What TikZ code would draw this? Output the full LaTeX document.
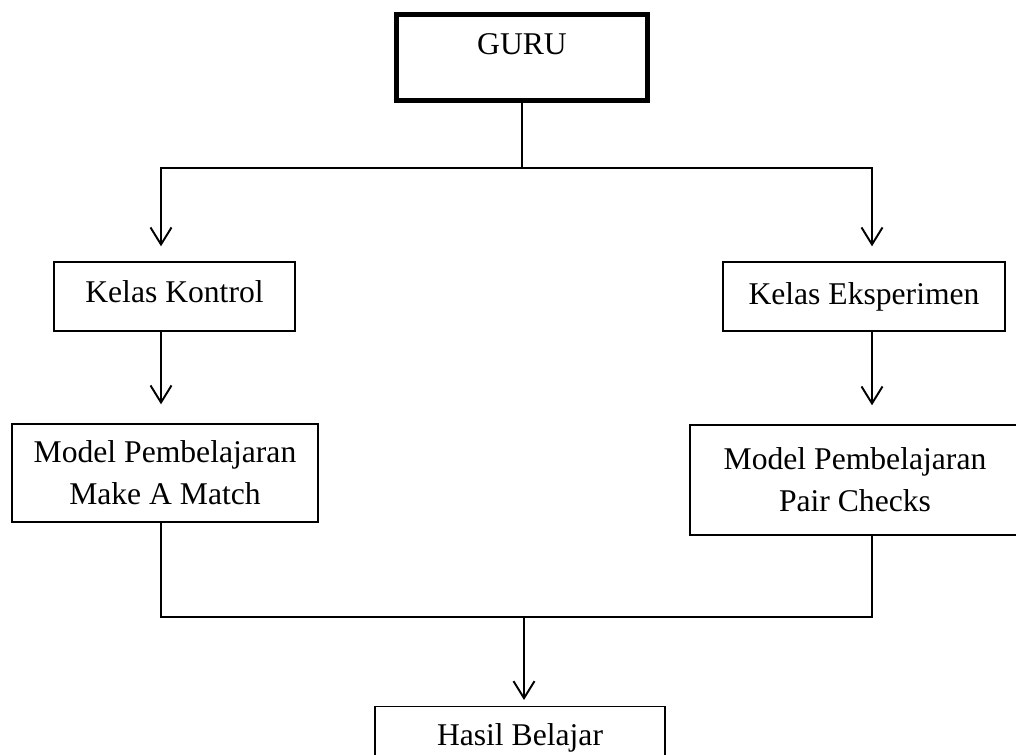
\documentclass[tikz,border=0pt]{standalone}
\usepackage{fontspec}
\setmainfont{Liberation Serif}
\usetikzlibrary{arrows.meta}
\begin{document}
\begin{tikzpicture}[font=\fontsize{18}{24}\selectfont, line join=miter, >={Straight Barb[length=3.4mm,width=4.2mm]},
		kotak/.style={draw, line width=.8pt, align=center, inner sep=0pt},
		panah/.style={->, line width=1.1pt},
		garis/.style={line width=1pt}]
		\useasboundingbox (0,0) rectangle (20.32,-15.1);
		\node[kotak, line width=2.8pt, minimum width=5.02cm, text height=.81cm, text depth=.91cm](guru) at (10.44,-1.15){GURU};
		\node[kotak, minimum width=4.82cm, text height=.8cm, text depth=.58cm](kontrol) at (3.49,-5.93){Kelas Kontrol};
		\node[kotak, minimum width=5.64cm, minimum height=1.38cm](eksperimen) at (17.28,-5.93){Kelas Eksperimen};
		\node[kotak, minimum width=6.12cm, minimum height=1.96cm](makematch) at (3.30,-9.46){Model Pembelajaran\\Make A Match};
		\node[kotak, minimum width=6.6cm, minimum height=2.2cm](paircheck) at (17.10,-9.60){Model Pembelajaran\\Pair Checks};
		\node[kotak, minimum width=5.8cm, text height=.78cm, text depth=.6cm, anchor=north](hasil) at (10.40,-14.12){Hasil Belajar};
		% titik cabang
		\coordinate (kiri) at (3.22,0);
		\coordinate (kanan) at (17.44,0);
		\coordinate (cabang) at (10.48,-3.36);
		\coordinate (gabung) at (10.48,-12.34);
		\draw[garis](guru.south)--(guru.south|-cabang);
		\draw[panah, shorten >=.3cm](cabang)-|(kiri|-kontrol.north);
		\draw[panah, shorten >=.3cm](cabang)-|(kanan|-eksperimen.north);
		\draw[panah, shorten >=.38cm](kiri|-kontrol.south)--(kiri|-makematch.north);
		\draw[panah, shorten >=.38cm](kanan|-eksperimen.south)--(kanan|-paircheck.north);
		\draw[garis](kiri|-makematch.south)|-(gabung)-|(kanan|-paircheck.south);
		\draw[panah, shorten >=.12cm](gabung)--(gabung|-hasil.north);
	\end{tikzpicture}
\end{document}
